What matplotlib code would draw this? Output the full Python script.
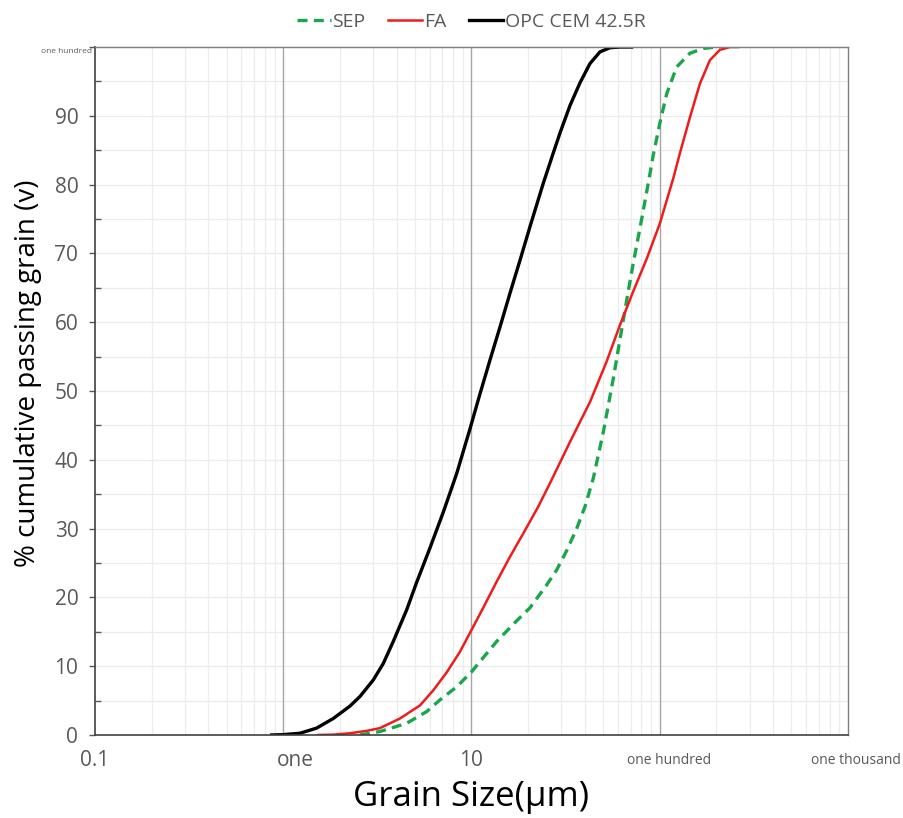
import matplotlib.pyplot as plt
from matplotlib import font_manager
from matplotlib.ticker import FixedLocator, NullFormatter
from matplotlib.transforms import ScaledTranslation

# -------------------------
# data
# -------------------------
opc_size = [0.868, 1.00, 1.227, 1.505, 1.845, 2.262, 2.557, 3.009, 3.401, 3.842,
            4.527, 5.115, 6.020, 7.085, 8.345, 9.818, 11.10, 12.54, 14.17, 16.01,
            18.10, 20.46, 24.07, 27.20, 29.52, 33.37, 37.71, 42.61, 48.15, 54.43,
            61.51, 70.96]
opc_pass = [0, 0.05, 0.25, 1.0, 2.4, 4.2, 5.6, 8.0, 10.4, 13.6,
            18.2, 22.2, 27.2, 32.4, 38.0, 44.5, 49.6, 54.5, 59.3, 64.2,
            69.0, 73.9, 80.2, 84.6, 87.5, 91.5, 94.8, 97.6, 99.3, 99.9,
            100, 100]

fa_size = [1.536, 1.845, 2.262, 2.776, 3.266, 4.172, 5.326, 6.268, 7.384, 8.687,
           10.02, 11.55, 13.61, 16.01, 18.85, 22.64, 26.67, 33.37, 42.61, 52.26,
           61.51, 72.36, 85.24, 100.3, 118.0, 128.1, 144.8, 163.6, 184.9, 209.0,
           236.2, 261.5]
fa_pass = [0, 0.05, 0.25, 0.6, 1.0, 2.4, 4.3, 6.5, 9.1, 12.1,
           15.3, 18.5, 22.3, 25.9, 29.3, 33.2, 37.1, 42.6, 48.4, 54.3,
           59.6, 64.5, 69.2, 74.4, 80.9, 84.6, 89.8, 94.7, 98.1, 99.6,
           100, 100]

sep_size = [2.557, 3.266, 4.527, 5.781, 6.801, 8.345, 10.02, 13.61, 17.39, 20.46,
            25.08, 28.36, 32.05, 36.22, 40.09, 44.36, 50.13, 56.66, 61.51, 66.75,
            72.36, 80.21, 88.77, 92.41, 100.3, 108.9, 123.0, 144.8, 170.3, 200.7,
            209.0]
sep_pass = [0, 0.5, 1.7, 3.4, 5.1, 7.0, 9.2, 13.6, 16.6, 18.5,
            21.8, 24.0, 26.8, 30.0, 33.2, 37.3, 44.0, 51.8, 57.5, 63.2,
            68.6, 75.0, 81.6, 84.3, 89.0, 93.2, 97.1, 99.1, 99.8, 100,
            100]

x_ticks = [0.1, 1, 10, 100, 1000]
x_labels = ["0.1", "one", "10", "one hundred", "one thousand"]
x_label_sizes = [15, 15, 15, 10, 10]
x_label_shift = [0, 12, 0, 9, 8]  # px, as in the reference
y_ticks = [0, 10, 20, 30, 40, 50, 60, 70, 80, 90, 100]
y_labels = ["0", "10", "20", "30", "40", "50", "60", "70", "80", "90", "one hundred"]

# -------------------------
# font
# -------------------------
names = {f.name for f in font_manager.fontManager.ttflist}
plt.rcParams["font.family"] = ["Open Sans", "DejaVu Sans"] if "Open Sans" in names else ["DejaVu Sans"]

# -------------------------
# figure
# -------------------------
fig = plt.figure(figsize=(9.04, 8.18), dpi=100)
ax = fig.add_axes([0.1051, 0.1015, 0.938 - 0.1051, 0.9425 - 0.1015])

ax.plot(sep_size, sep_pass, color="#1aa64a", lw=2.4, ls=(0, (3.0, 1.9)), label="SEP")
ax.plot(fa_size, fa_pass, color="#ee1c1c", lw=1.8, label="FA")
ax.plot(opc_size, opc_pass, color="black", lw=2.4, label="OPC CEM 42.5R")

ax.set_xscale("log")
ax.set_xlim(0.1, 1000)
ax.set_ylim(0, 100)

# grid
minor_x = [m * 10.0 ** e for e in range(-1, 3) for m in range(2, 10)]
ax.xaxis.set_minor_locator(FixedLocator(minor_x))
ax.xaxis.set_minor_formatter(NullFormatter())
ax.grid(True, which="minor", axis="x", color="#ececec", lw=0.9)
for xv in [1, 10, 100]:
    ax.axvline(xv, color="#a6a6a6", lw=1.0, zorder=1)
for yv in range(5, 100, 5):
    ax.axhline(yv, color="#ececec", lw=0.9, zorder=0)
ax.set_axisbelow(True)

# ticks
ax.set_xticks(x_ticks)
ax.set_xticklabels(x_labels)
ax.tick_params(axis="x", which="both", length=0, pad=18.5, colors="#595959")
for lab, fs, dx in zip(ax.get_xticklabels(), x_label_sizes, x_label_shift):
    lab.set_fontsize(fs)
    lab.set_va("center")
    lab.set_transform(lab.get_transform() + ScaledTranslation(dx / 100, 0, fig.dpi_scale_trans))

ax.set_yticks(y_ticks)
ax.set_yticklabels(y_labels)
ax.yaxis.set_minor_locator(FixedLocator(list(range(5, 100, 10))))
ax.tick_params(axis="y", which="major", direction="out", length=4, width=1, colors="#595959", pad=8)
ax.tick_params(axis="y", which="minor", direction="in", length=4, width=1, color="#595959")
for lab in ax.get_yticklabels():
    lab.set_fontsize(15)
top_lab = ax.get_yticklabels()[-1]
top_lab.set_fontsize(6)
top_lab.set_transform(top_lab.get_transform() + ScaledTranslation(14 / 100, -3 / 100, fig.dpi_scale_trans))

for side in ["left", "bottom"]:
    ax.spines[side].set_color("#404040")
    ax.spines[side].set_linewidth(1.2)
for side in ["top", "right"]:
    ax.spines[side].set_color("#7f7f7f")
    ax.spines[side].set_linewidth(1.0)

ax.set_xlabel("Grain Size(µm)", fontsize=25, va="center")
ax.xaxis.set_label_coords(0.5, -0.09)
ax.set_ylabel("% cumulative passing grain (v)", fontsize=20, va="center")
ax.yaxis.set_label_coords(-0.089, 0.526)

leg = fig.legend(loc="center", bbox_to_anchor=(0.521, 0.973), ncol=3, frameon=False,
                 fontsize=14, handlelength=1.75, handletextpad=0.1, columnspacing=1.15)
for t in leg.get_texts():
    t.set_color("#595959")

fig.savefig("out.png", dpi=100)
